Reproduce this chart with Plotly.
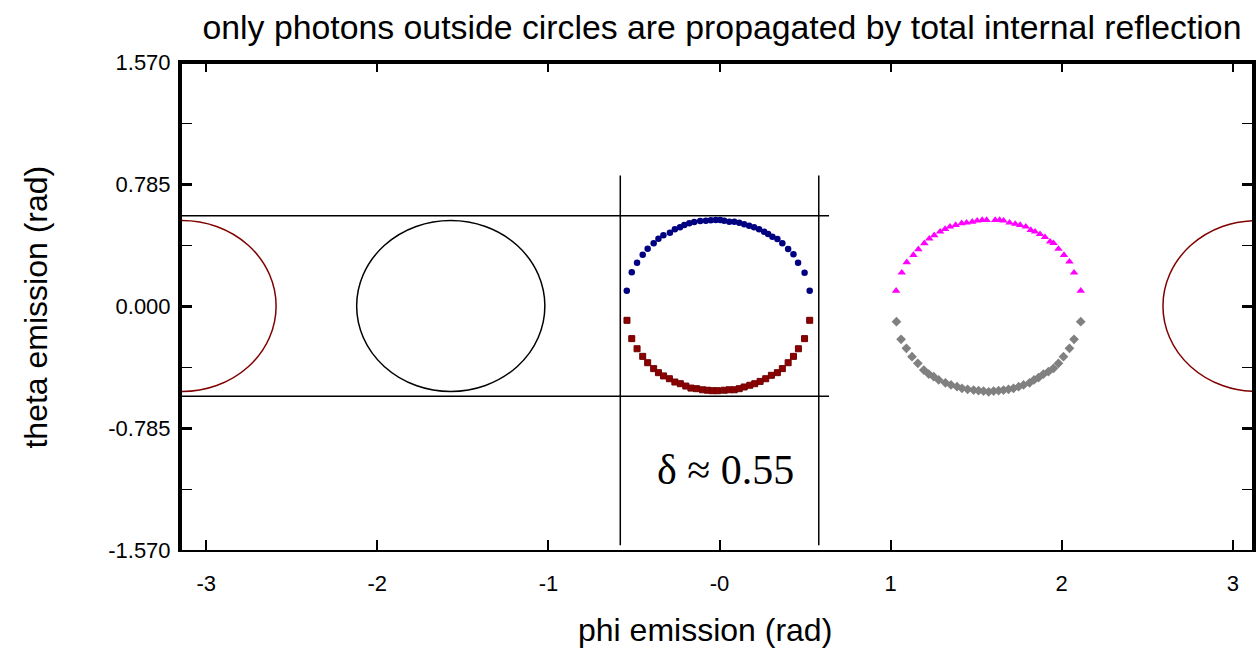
import plotly.graph_objects as go
import math

PI = math.pi

# ---- data ----
blue_x = [-0.542, -0.513, -0.482, -0.449, -0.420, -0.385, -0.357, -0.328, -0.290, -0.261,
          -0.231, -0.206, -0.177, -0.148, -0.113, -0.080, -0.051, -0.022, 0.004, 0.027,
          0.057, 0.086, 0.115, 0.144, 0.173, 0.202, 0.231, 0.261, 0.284, 0.309,
          0.338, 0.367, 0.401, 0.432, 0.459, 0.497, 0.527]
blue_y = [0.098, 0.217, 0.279, 0.330, 0.369, 0.403, 0.433, 0.455, 0.472, 0.494,
          0.506, 0.521, 0.532, 0.541, 0.547, 0.549, 0.551, 0.553, 0.553, 0.549,
          0.542, 0.542, 0.536, 0.526, 0.517, 0.506, 0.494, 0.478, 0.463, 0.446,
          0.431, 0.403, 0.367, 0.333, 0.279, 0.214, 0.098]

red_x = [-0.541, -0.513, -0.482, -0.449, -0.420, -0.385, -0.357, -0.327, -0.293, -0.261,
         -0.229, -0.197, -0.167, -0.134, -0.099, -0.070, -0.041, -0.012, 0.027, 0.057,
         0.086, 0.115, 0.144, 0.177, 0.206, 0.237, 0.270, 0.303, 0.338, 0.367,
         0.401, 0.432, 0.461, 0.497, 0.527]
red_y = [-0.092, -0.210, -0.275, -0.324, -0.365, -0.403, -0.429, -0.450, -0.468, -0.489,
         -0.500, -0.515, -0.528, -0.532, -0.539, -0.542, -0.545, -0.545, -0.542, -0.539,
         -0.539, -0.532, -0.521, -0.510, -0.500, -0.485, -0.468, -0.446, -0.429, -0.403,
         -0.365, -0.324, -0.275, -0.210, -0.092]

magenta_x = [1.032, 1.065, 1.094, 1.133, 1.162, 1.197, 1.226, 1.255, 1.289, 1.318,
             1.347, 1.380, 1.415, 1.444, 1.477, 1.506, 1.535, 1.561, 1.611, 1.637,
             1.660, 1.695, 1.728, 1.757, 1.790, 1.819, 1.844, 1.873, 1.902, 1.932,
             1.952, 1.981, 2.013, 2.045, 2.072, 2.111]
magenta_y = [0.098, 0.214, 0.281, 0.328, 0.365, 0.403, 0.433, 0.455, 0.478, 0.495,
             0.510, 0.521, 0.532, 0.536, 0.542, 0.549, 0.553, 0.553, 0.553, 0.553,
             0.549, 0.536, 0.528, 0.521, 0.510, 0.489, 0.478, 0.462, 0.443, 0.414,
             0.404, 0.367, 0.328, 0.285, 0.214, 0.098]

gray_x = [1.034, 1.061, 1.092, 1.125, 1.159, 1.194, 1.223, 1.252, 1.281, 1.320,
          1.353, 1.388, 1.417, 1.450, 1.485, 1.514, 1.543, 1.573, 1.602, 1.631,
          1.660, 1.689, 1.718, 1.748, 1.777, 1.812, 1.838, 1.864, 1.893, 1.922,
          1.952, 1.981, 2.010, 2.045, 2.072, 2.111]
gray_y = [-0.101, -0.214, -0.272, -0.326, -0.369, -0.412, -0.438, -0.455, -0.476, -0.494,
          -0.508, -0.519, -0.530, -0.536, -0.541, -0.545, -0.547, -0.552, -0.547, -0.545,
          -0.541, -0.536, -0.530, -0.519, -0.508, -0.494, -0.476, -0.461, -0.438, -0.423,
          -0.401, -0.369, -0.326, -0.272, -0.214, -0.101]

# reference circles (centre x, centre y, radius, colour)
circle_cx = [-PI, -PI / 2, PI]
circle_cy = [0.0, 0.0, 0.0]
circle_r = [0.55, 0.55, 0.55]
circle_col = ["#800000", "#000000", "#800000"]

band_half = 0.58          # horizontal / vertical band lines
hline_x_end = 0.64
vline_y_range = [-1.54, 0.84]

x_tickvals = [-3, -2, -1, 0, 1, 2, 3]
x_ticktext = ["-3", "-2", "-1", "-0", "1", "2", "3"]
y_tickvals = [-1.570, -0.785, 0.0, 0.785, 1.570]
y_ticktext = ["-1.570", "-0.785", "0.000", "0.785", "1.570"]

x_range = [-PI, 3.112]
y_range = [-1.570, 1.570]

fig = go.Figure()
fig.add_trace(go.Scatter(x=blue_x, y=blue_y, mode="markers",
                         marker=dict(symbol="circle", size=6.5, color="#000080"), showlegend=False))
fig.add_trace(go.Scatter(x=red_x, y=red_y, mode="markers",
                         marker=dict(symbol="square", size=6, color="#8b0000",
                                     line=dict(color="#700000", width=1)), showlegend=False))
fig.add_trace(go.Scatter(x=magenta_x, y=magenta_y, mode="markers",
                         marker=dict(symbol="triangle-up", size=7.5, color="#ff00ff"), showlegend=False))
fig.add_trace(go.Scatter(x=gray_x, y=gray_y, mode="markers",
                         marker=dict(symbol="diamond", size=7.5, color="#808080"), showlegend=False))

shapes = []
for cx, cy, r, c in zip(circle_cx, circle_cy, circle_r, circle_col):
    shapes.append(dict(type="circle", xref="x", yref="y", x0=cx - r, x1=cx + r,
                       y0=cy - r, y1=cy + r, line=dict(color=c, width=1.5), layer="above"))
for yv in (band_half, -band_half):
    shapes.append(dict(type="line", xref="x", yref="y", x0=x_range[0], x1=hline_x_end,
                       y0=yv, y1=yv, line=dict(color="black", width=1.5)))
for xv in (-band_half, band_half):
    shapes.append(dict(type="line", xref="x", yref="y", x0=xv, x1=xv,
                       y0=vline_y_range[0], y1=vline_y_range[1], line=dict(color="black", width=1.5)))
# heavier top frame line
shapes.append(dict(type="line", xref="paper", yref="paper", x0=0, x1=1, y0=1, y1=1,
                   line=dict(color="black", width=4)))

FONT = "Liberation Sans, Arial, sans-serif"

fig.update_layout(
    width=1256, height=648,
    margin=dict(l=182, r=0, t=62, b=98),
    paper_bgcolor="white", plot_bgcolor="white",
    font=dict(family=FONT, color="black"),
    title=dict(text="only photons outside circles are propagated by total internal reflection",
               x=(724 - 182) / 1074, xref="paper", xanchor="center", y=1 - 27 / 648, yanchor="middle",
               font=dict(size=33.8)),
    shapes=shapes,
    annotations=[
        dict(x=0.035, y=-1.055, xref="x", yref="y", text="δ ≈ 0.55", showarrow=False,
             font=dict(family="Liberation Serif, Times New Roman, serif", size=42)),
        dict(x=(707 - 182) / 1074, y=(550 - 630) / 488, xref="paper", yref="paper",
             xanchor="center", yanchor="middle", text="phi emission (rad)", showarrow=False,
             font=dict(size=32)),
        dict(x=(35 - 182) / 1074, y=(550 - 307) / 488, xref="paper", yref="paper",
             xanchor="center", yanchor="middle", text="theta emission (rad)", showarrow=False,
             textangle=-90, font=dict(size=32)),
    ],
    xaxis=dict(range=x_range, tickvals=x_tickvals, ticktext=x_ticktext,
               showgrid=False, zeroline=False, showline=True, linewidth=2, linecolor="black",
               mirror="ticks", ticks="inside", ticklen=10, tickwidth=2, tickcolor="black",
               tickfont=dict(size=22), ticklabelstandoff=13),
    yaxis=dict(range=y_range, tickvals=y_tickvals, ticktext=y_ticktext,
               showgrid=False, zeroline=False, showline=True, linewidth=4, linecolor="black",
               mirror="ticks", ticks="inside", ticklen=10, tickwidth=2.5, tickcolor="black",
               tickfont=dict(size=22), ticklabelstandoff=3,
               minor=dict(tick0=-1.570, dtick=0.3925, ticks="inside", ticklen=10, tickwidth=1,
                          tickcolor="black", showgrid=False)),
)

fig.write_html("out.html")
